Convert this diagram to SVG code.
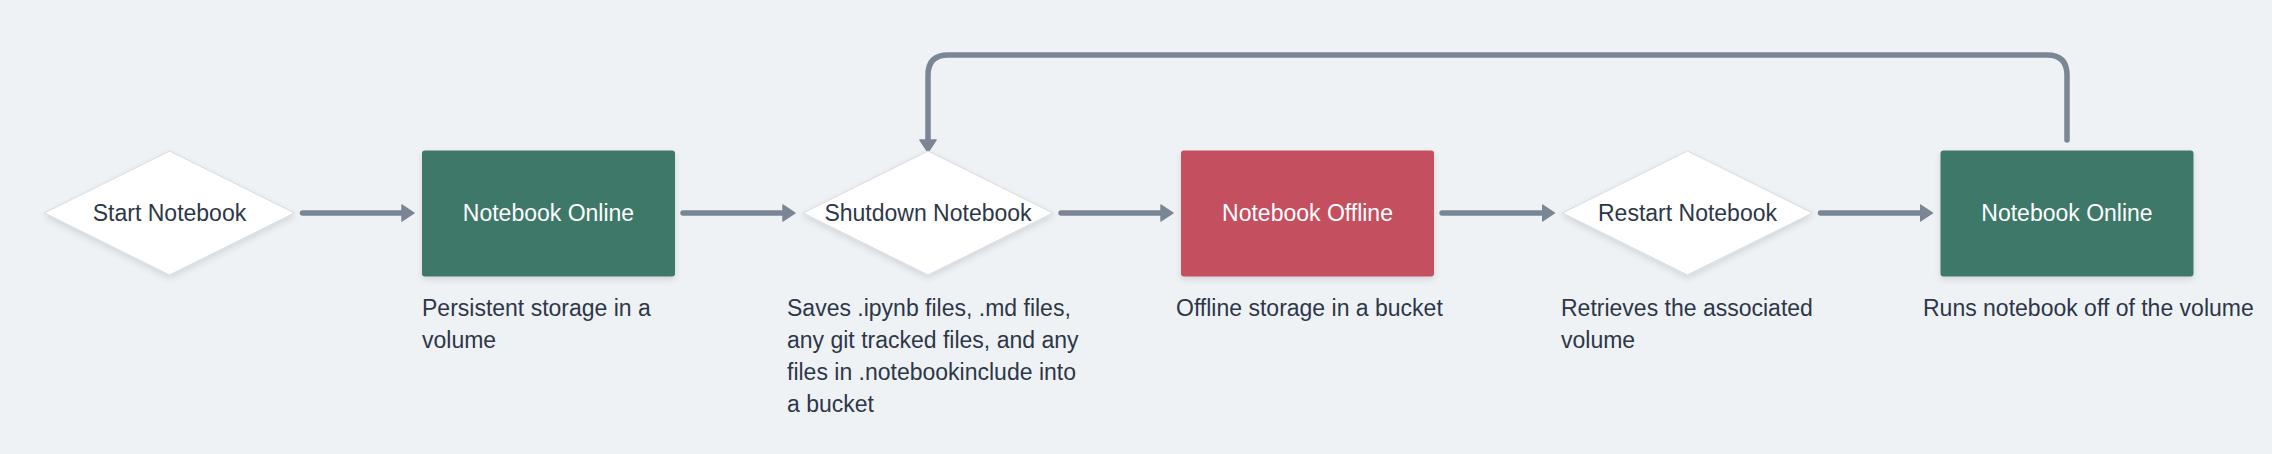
<svg xmlns="http://www.w3.org/2000/svg" width="2272" height="454" viewBox="0 0 2272 454">
<style>
.bg{fill:#eff2f5}
.rect-green{fill:#3d7868}
.rect-red{fill:#c44f5e}
.diamond{fill:#ffffff;stroke:#d6dbe1;stroke-width:1;stroke-linejoin:round}
.lbl{font-family:"Liberation Sans",Arial,sans-serif;font-size:23px;text-anchor:middle}
.lbl-dark{fill:#2d3748}
.lbl-light{fill:#ffffff}
.desc{font-family:"Liberation Sans",Arial,sans-serif;font-size:23px;fill:#2d3748}
.conn{fill:none;stroke:#7b8695;stroke-width:5.5;stroke-linecap:round;stroke-linejoin:round}
</style>
<defs>
<filter id="shadow" x="-10%" y="-10%" width="120%" height="130%">
<feDropShadow dx="0" dy="3" stdDeviation="3" flood-color="#1a2230" flood-opacity="0.12"/>
</filter>
<marker id="arrow" markerUnits="userSpaceOnUse" markerWidth="14" markerHeight="20" refX="6" refY="9" orient="auto">
<path d="M1,1 L13,9 L1,17 Z" fill="#7b8695" stroke="#7b8695" stroke-width="1.5" stroke-linejoin="round"/>
</marker>
</defs>
<rect class="bg" x="0" y="0" width="2272" height="454"/>

<g id="connectors">
<path class="conn" d="M302.5,213 H407" marker-end="url(#arrow)"/>
<path class="conn" d="M683,213 H788" marker-end="url(#arrow)"/>
<path class="conn" d="M1061,213 H1166" marker-end="url(#arrow)"/>
<path class="conn" d="M1442,213 H1547.5" marker-end="url(#arrow)"/>
<path class="conn" d="M1820.5,213 H1925.5" marker-end="url(#arrow)"/>
<path class="conn" d="M2067,140 V75 Q2067,55 2047,55 H948 Q928,55 928,75 V145" marker-end="url(#arrow)"/>
</g>

<g id="node-start">
<polygon class="diamond" filter="url(#shadow)" points="169.5,151 294.5,213 169.5,275 44.5,213"/>
<text class="lbl lbl-dark" x="169.5" y="221">Start Notebook</text>
</g>

<g id="node-online-1">
<rect class="rect-green" filter="url(#shadow)" x="422" y="150.5" width="253" height="126" rx="3"/>
<text class="lbl lbl-light" x="548.5" y="221">Notebook Online</text>
<text class="desc" x="422" y="316">Persistent storage in a</text>
<text class="desc" x="422" y="348">volume</text>
</g>

<g id="node-shutdown">
<polygon class="diamond" filter="url(#shadow)" points="928,151 1053,213 928,275 803,213"/>
<text class="lbl lbl-dark" x="928" y="221">Shutdown Notebook</text>
<text class="desc" x="787" y="316">Saves .ipynb files, .md files,</text>
<text class="desc" x="787" y="348">any git tracked files, and any</text>
<text class="desc" x="787" y="380">files in .notebookinclude into</text>
<text class="desc" x="787" y="412">a bucket</text>
</g>

<g id="node-offline">
<rect class="rect-red" filter="url(#shadow)" x="1181" y="150.5" width="253" height="126" rx="3"/>
<text class="lbl lbl-light" x="1307.5" y="221">Notebook Offline</text>
<text class="desc" x="1176" y="316">Offline storage in a bucket</text>
</g>

<g id="node-restart">
<polygon class="diamond" filter="url(#shadow)" points="1687.5,151 1812.5,213 1687.5,275 1562.5,213"/>
<text class="lbl lbl-dark" x="1687.5" y="221">Restart Notebook</text>
<text class="desc" x="1561" y="316">Retrieves the associated</text>
<text class="desc" x="1561" y="348">volume</text>
</g>

<g id="node-online-2">
<rect class="rect-green" filter="url(#shadow)" x="1940.5" y="150.5" width="253" height="126" rx="3"/>
<text class="lbl lbl-light" x="2067" y="221">Notebook Online</text>
<text class="desc" x="1923" y="316">Runs notebook off of the volume</text>
</g>
</svg>
